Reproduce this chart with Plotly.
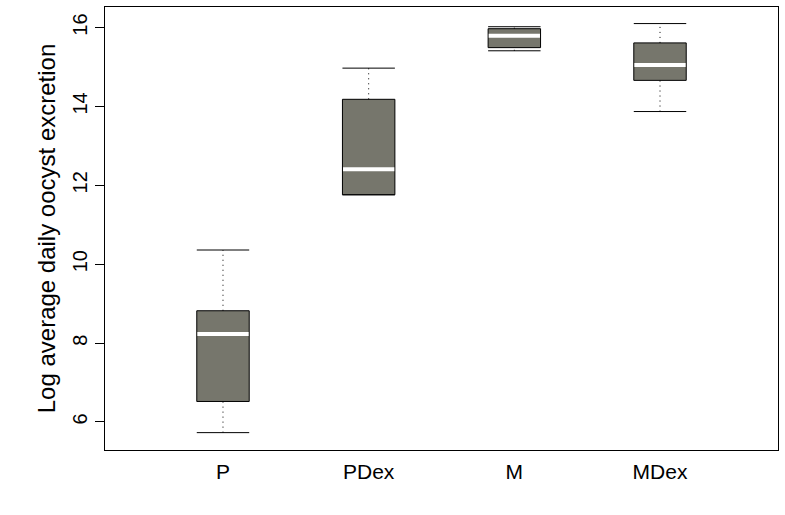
import plotly.graph_objects as go

# Box summaries
groups = ["P", "PDex", "M", "MDex"]
lower = [5.73, 11.76, 15.41, 13.87]
q1 = [6.52, 11.76, 15.49, 14.66]
median = [8.23, 12.41, 15.79, 15.05]
q3 = [8.82, 14.18, 15.97, 15.61]
upper = [10.36, 14.97, 16.02, 16.1]

pos = [1, 2, 3, 4]
half = 0.18
box_fill = "#76766c"

fig = go.Figure()

# boxes
fig.add_trace(go.Bar(
    x=pos, base=q1, y=[b - a for a, b in zip(q1, q3)],
    width=2 * half, marker=dict(color=box_fill, line=dict(color="black", width=1)),
    showlegend=False, hoverinfo="skip"))

for i in range(len(groups)):
    x0, x1 = pos[i] - half, pos[i] + half
    # dotted whiskers
    fig.add_trace(go.Scatter(x=[pos[i], pos[i]], y=[q3[i], upper[i]], mode="lines",
                             line=dict(color="black", width=1, dash="1px,4px"), showlegend=False))
    fig.add_trace(go.Scatter(x=[pos[i], pos[i]], y=[lower[i], q1[i]], mode="lines",
                             line=dict(color="black", width=1, dash="1px,4px"), showlegend=False))
    # caps
    fig.add_trace(go.Scatter(x=[x0, x1], y=[upper[i], upper[i]], mode="lines",
                             line=dict(color="black", width=1), showlegend=False))
    fig.add_trace(go.Scatter(x=[x0, x1], y=[lower[i], lower[i]], mode="lines",
                             line=dict(color="black", width=1), showlegend=False))
    # median
    fig.add_trace(go.Scatter(x=[x0 + 0.004, x1 - 0.004], y=[median[i], median[i]], mode="lines",
                             line=dict(color="white", width=4), showlegend=False))

fig.update_layout(
    width=785, height=515,
    margin=dict(l=105, r=7, t=7, b=65),
    plot_bgcolor="white", paper_bgcolor="white",
    font=dict(family="Liberation Sans, Arial", size=20, color="black"),
    xaxis=dict(range=[0.19, 4.81], tickvals=pos, ticktext=groups, showgrid=False,
               zeroline=False, showline=True, mirror=True, linecolor="black", linewidth=1,
               ticks="", ticklabelstandoff=3, tickfont=dict(size=21)),
    yaxis=dict(range=[5.29, 16.52], tickvals=[6, 8, 10, 12, 14, 16], showgrid=False,
               zeroline=False, showline=True, mirror=True, linecolor="black", linewidth=1,
               ticks="outside", ticklen=9, tickcolor="black", tickangle=-90,
               title=dict(text="Log average daily oocyst excretion", standoff=6)),
)

fig.write_html("out.html", config={"displayModeBar": False},
               post_script="document.body.style.margin='0';")
